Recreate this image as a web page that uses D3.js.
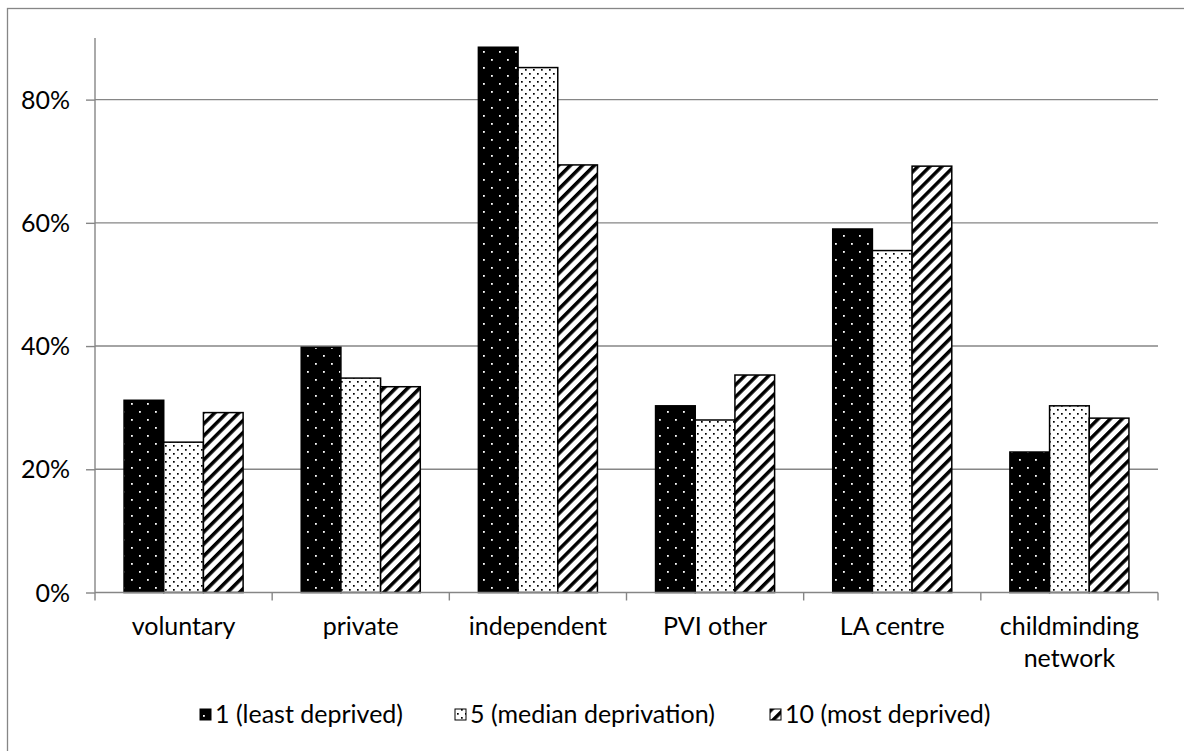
<!DOCTYPE html>
<html><head><meta charset="utf-8">
<script src="https://cdn.jsdelivr.net/npm/d3@7"></script>
<style>
html,body{margin:0;padding:0;background:#fff;}
svg text{font-family:Lato,"Open Sans",sans-serif;fill:#000;}
</style></head>
<body>
<svg id="chart" width="1184" height="751"></svg>
<script>
const categories = ["voluntary","private","independent","PVI other","LA centre","childminding network"];
const seriesNames = ["1 (least deprived)","5 (median deprivation)","10 (most deprived)"];
const leastDeprived = [0.312,0.398,0.885,0.303,0.590,0.228];
const medianDeprivation = [0.244,0.348,0.852,0.280,0.555,0.303];
const mostDeprived = [0.292,0.334,0.694,0.353,0.692,0.283];
const yTicks = [0,0.2,0.4,0.6,0.8];
const yMax = 0.9;

const series = [leastDeprived, medianDeprivation, mostDeprived];
const patternIds = ["pBlackDots","pWhiteDots","pHatch"];
const FS = 25;

const svg = d3.select("#chart");
const m = {left:95, right:1158, top:38, bottom:592.5};

// chart border
svg.append("rect").attr("x",7.5).attr("y",8.5).attr("width",1200).attr("height",800)
  .attr("fill","#fff").attr("stroke","#868686").attr("stroke-width",1.3);

const defs = svg.append("defs");
let p = defs.append("pattern").attr("id","pBlackDots").attr("patternUnits","userSpaceOnUse")
  .attr("width",16).attr("height",16);
p.append("rect").attr("width",16).attr("height",16).attr("fill","#000");
p.append("rect").attr("x",3).attr("y",3).attr("width",1.8).attr("height",1.8).attr("fill","#fff");
p.append("rect").attr("x",11).attr("y",11).attr("width",1.8).attr("height",1.8).attr("fill","#fff");
p = defs.append("pattern").attr("id","pWhiteDots").attr("patternUnits","userSpaceOnUse")
  .attr("width",8).attr("height",8);
p.append("rect").attr("width",8).attr("height",8).attr("fill","#fff");
p.append("rect").attr("x",1).attr("y",1).attr("width",1.7).attr("height",1.7).attr("fill","#000");
p.append("rect").attr("x",5).attr("y",5).attr("width",1.7).attr("height",1.7).attr("fill","#000");
p = defs.append("pattern").attr("id","pHatch").attr("patternUnits","userSpaceOnUse")
  .attr("width",8.5).attr("height",8.5).attr("patternTransform","rotate(45)");
p.append("rect").attr("width",8.5).attr("height",8.5).attr("fill","#fff");
p.append("rect").attr("x",0).attr("width",3.5).attr("height",8.5).attr("fill","#000");

const x = d3.scaleBand().domain(categories).range([m.left,m.right]).paddingInner(0).paddingOuter(0);
const y = d3.scaleLinear().domain([0,yMax]).range([m.bottom,m.top]);

svg.append("g").selectAll("line").data(yTicks.filter(d=>d>0)).join("line")
  .attr("x1",m.left).attr("x2",m.right)
  .attr("y1",d=>y(d)).attr("y2",d=>y(d))
  .attr("stroke","#868686").attr("stroke-width",1.4);

const yAxis = d3.axisLeft(y).tickValues(yTicks).tickFormat(d3.format(".0%")).tickSize(9).tickPadding(16);
const gy = svg.append("g").attr("transform",`translate(${m.left},0)`).call(yAxis);
gy.select(".domain").attr("stroke","#868686").attr("stroke-width",1.4).attr("d",`M0,${m.top}V${m.bottom}`);
gy.selectAll(".tick line").attr("stroke","#868686").attr("stroke-width",1.4);
gy.selectAll(".tick text").attr("font-size",FS).attr("font-family","Lato").attr("fill","#000").attr("dy","0.34em");

const groupW = x.bandwidth()*0.672;
const sub = d3.scaleBand().domain([0,1,2]).range([0,groupW]);
const off = (x.bandwidth()-groupW)/2;
categories.forEach((c,i)=>{
  series.forEach((s,k)=>{
    svg.append("rect")
      .attr("x",x(c)+off+sub(k))
      .attr("y",y(s[i]))
      .attr("width",sub.bandwidth())
      .attr("height",y(0)-y(s[i]))
      .attr("fill",`url(#${patternIds[k]})`)
      .attr("stroke","#000").attr("stroke-width",1.5);
  });
});

const gx = svg.append("g").attr("transform",`translate(0,${m.bottom})`);
gx.append("line").attr("x1",m.left).attr("x2",m.right).attr("stroke","#868686").attr("stroke-width",1.4);
const xt = categories.map(c=>x(c)).concat([m.right]);
gx.selectAll("line.t").data(xt).join("line").attr("class","t")
  .attr("x1",d=>d).attr("x2",d=>d).attr("y1",0).attr("y2",8)
  .attr("stroke","#868686").attr("stroke-width",1.4);
categories.forEach(c=>{
  const words = c==="childminding network" ? ["childminding","network"] : [c];
  const t = gx.append("text").attr("text-anchor","middle").attr("font-size",FS)
    .attr("x",x(c)+x.bandwidth()/2).attr("y",42);
  words.forEach((w,j)=>t.append("tspan").attr("x",x(c)+x.bandwidth()/2).attr("dy",j?32:0).text(w));
});

const legX = [200,455,770];
const lg = svg.append("g");
seriesNames.forEach((n,k)=>{
  lg.append("rect").attr("x",legX[k]).attr("y",709).attr("width",11).attr("height",11)
    .attr("fill",`url(#${patternIds[k]})`).attr("stroke","#000").attr("stroke-width",1);
  lg.append("text").attr("x",legX[k]+15).attr("y",723).attr("font-size",FS).text(n);
});
</script>
</body></html>
